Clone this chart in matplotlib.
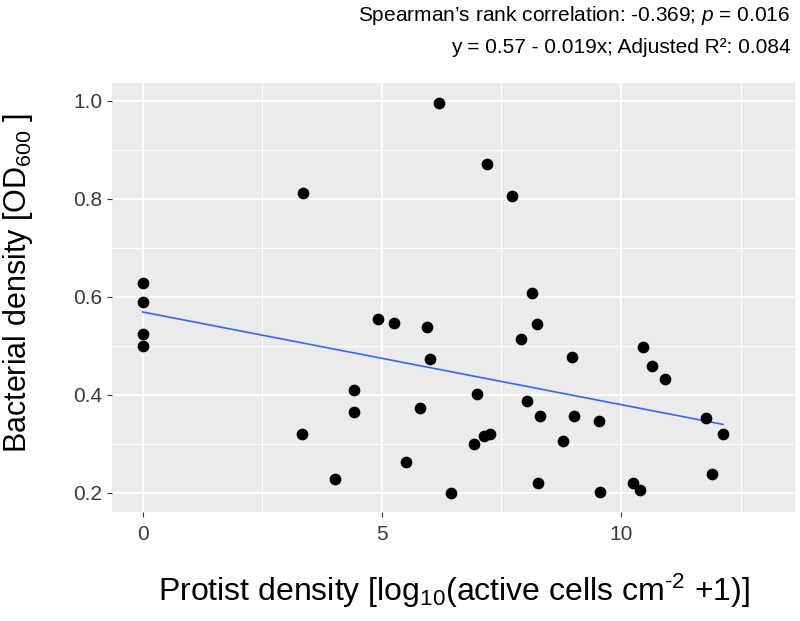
import numpy as np
import matplotlib
matplotlib.use("Agg")
import matplotlib.pyplot as plt
from matplotlib.ticker import MultipleLocator

plt.rcParams['font.family'] = ['Liberation Sans', 'DejaVu Sans']
plt.rcParams['mathtext.fontset'] = 'custom'
plt.rcParams['mathtext.rm'] = 'Liberation Sans'
plt.rcParams['mathtext.it'] = 'Liberation Sans:italic'
plt.rcParams['mathtext.default'] = 'regular'

# protist density (x) and bacterial density (y)
protist = [0, 0, 0, 0,
           3.34, 3.35, 4.02, 4.41, 4.41, 4.92, 5.25, 5.51, 5.80, 5.95,
           6.01, 6.19, 6.44, 6.93, 6.99, 7.13, 7.20, 7.27, 7.73, 7.91,
           8.04, 8.14, 8.25, 8.27, 8.30, 8.79, 8.97, 9.02, 9.53, 9.55,
           10.24, 10.40, 10.45, 10.65, 10.92, 11.77, 11.90, 12.13]
bacteria = [0.629, 0.589, 0.524, 0.500,
            0.320, 0.812, 0.228, 0.409, 0.366, 0.554, 0.547, 0.264, 0.373, 0.538,
            0.473, 0.995, 0.200, 0.299, 0.401, 0.317, 0.870, 0.321, 0.805, 0.513,
            0.387, 0.608, 0.544, 0.221, 0.357, 0.306, 0.478, 0.357, 0.346, 0.201,
            0.221, 0.206, 0.497, 0.458, 0.433, 0.353, 0.239, 0.321]

# fitted line (as printed in the header)
intercept = 0.569
slope = -0.0189

fig = plt.figure(figsize=(8, 6.21), dpi=100)
ax = fig.add_axes([0.14, 0.1755, 0.854, 0.6908])

ax.set_facecolor('#EBEBEB')
for s in ax.spines.values():
    s.set_visible(False)

ax.xaxis.set_major_locator(MultipleLocator(5))
ax.xaxis.set_minor_locator(MultipleLocator(2.5))
ax.yaxis.set_major_locator(MultipleLocator(0.2))
ax.yaxis.set_minor_locator(MultipleLocator(0.1))
ax.grid(which='major', color='white', lw=1.3)
ax.grid(which='minor', color='white', lw=0.7)
ax.set_axisbelow(True)
ax.tick_params(which='minor', length=0)
ax.tick_params(which='major', length=3.5, width=0.8, color='#333333',
               labelcolor='#3A3A3A', labelsize=15)
ax.tick_params(axis='x', pad=6)

ax.scatter(protist, bacteria, s=55, color='black', zorder=3)

xs = np.array([min(protist), max(protist)])
ax.plot(xs, intercept + slope * xs, color='#3366FF', lw=1.2, zorder=2)

ax.set_xlim(-0.64, 13.64)
ax.set_ylim(0.161, 1.036)
ax.set_yticks([0.2, 0.4, 0.6, 0.8, 1.0])
ax.set_yticklabels(['0.2', '0.4', '0.6', '0.8', '1.0'])

ax.set_xlabel('Protist density [log$_{10}$(active cells cm$^{\\text{-2}}$ +1)]',
              fontsize=23, labelpad=20)
ax.set_ylabel('Bacterial density [OD$_{600}$ ]', fontsize=22)
ax.yaxis.set_label_coords(-0.113, 0.535)

fig.text(0.988, 0.975, "Spearman\u2019s rank correlation: -0.369; $\\mathit{p}$ = 0.016",
         ha='right', va='center', fontsize=15)
fig.text(0.988, 0.923, "y = 0.57 - 0.019x; Adjusted R\u00b2: 0.084",
         ha='right', va='center', fontsize=15)

fig.savefig('out.png', dpi=100)
